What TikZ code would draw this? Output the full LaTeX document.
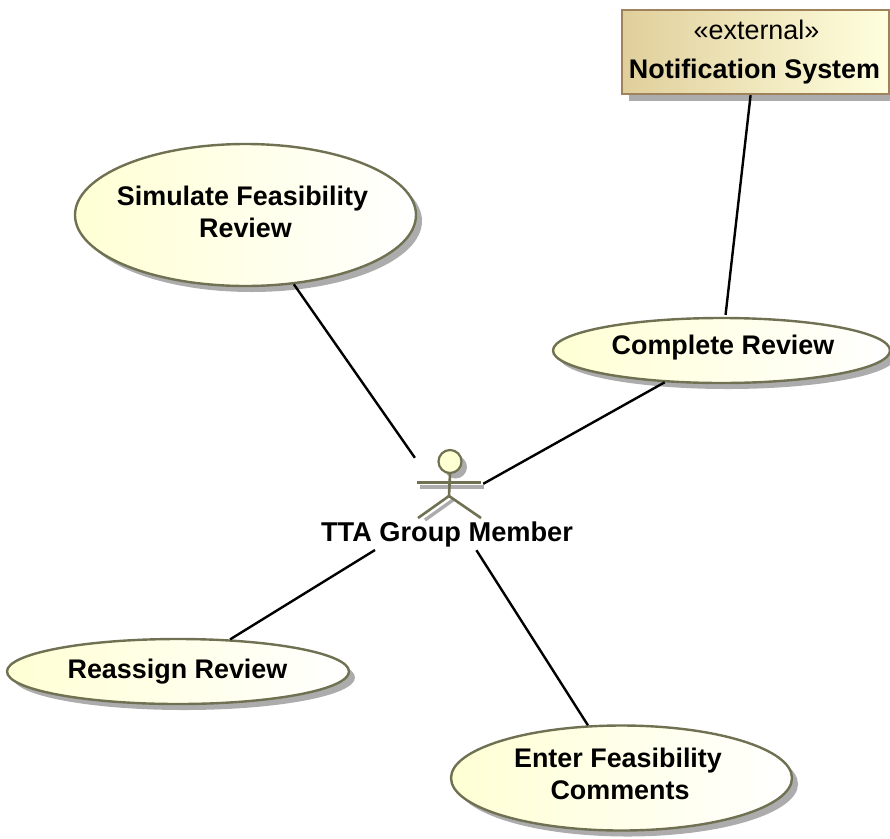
\documentclass[tikz,border=0pt]{standalone}
\usepackage{fontspec}
\setmainfont{Liberation Sans}
\usetikzlibrary{shapes.geometric,shadows}
\definecolor{ucyellow}{RGB}{255,255,212}
\definecolor{ucline}{RGB}{112,112,82}
\definecolor{extleft}{RGB}{224,207,155}
\definecolor{extright}{RGB}{255,255,222}
\definecolor{extline}{RGB}{160,130,92}
\definecolor{shadowgray}{RGB}{172,172,172}
\newcommand{\uctext}[3]{\raisebox{#2pt}{\makebox[0pt]{\hspace*{#1pt}#3}}}
\tikzset{
  usecase/.style={ellipse,draw=ucline,line width=2.4pt,left color=ucyellow,right color=white,
    inner sep=0pt,align=center,font=\fontsize{26.9}{32}\selectfont\bfseries,
    drop shadow={shadow xshift=6pt,shadow yshift=-6pt,fill=shadowgray,opacity=1}},
  extbox/.style={rectangle,draw=extline,line width=2.4pt,left color=extleft,right color=extright,
    inner sep=0pt,align=center,font=\fontsize{26.9}{39}\selectfont,
    drop shadow={shadow xshift=7pt,shadow yshift=-7pt,fill=shadowgray,opacity=1}},
  assoc/.style={draw=black,line width=2.4pt},
  actorline/.style={draw=ucline,line width=2.6pt},
  actorshadow/.style={draw=shadowgray,line width=3.4pt}
}
\begin{document}
\begin{tikzpicture}[x=1pt,y=-1pt]
\useasboundingbox (0,0) rectangle (890,838);
\node[extbox,minimum width=267pt,minimum height=84pt] (notif) at (755.5,52) {\uctext{2}{-3}{«external»}\\\uctext{-2}{-3}{\textbf{Notification System}}};
\node[usecase,minimum width=341pt,minimum height=142pt] (sim) at (245.5,215) {\uctext{-6}{7}{Simulate Feasibility}\\\uctext{0}{7}{Review}};
\node[usecase,minimum width=337pt,minimum height=65pt] (comp) at (721.5,350.5) {\uctext{3}{11}{Complete Review}};
\node[usecase,minimum width=342pt,minimum height=65pt] (reas) at (178,671.5) {\uctext{-1}{3}{Reassign Review}};
\node[usecase,minimum width=341pt,minimum height=105pt] (enter) at (621.5,778) {\uctext{-7}{9}{Enter Feasibility}\\\uctext{-3}{9}{Comments}};
\node[minimum width=72pt,minimum height=92pt,inner sep=0pt] (actor) at (447,504) {};
\node[font=\fontsize{27.2}{32}\selectfont\bfseries,inner sep=0pt] (actorlabel) at (447,534) {TTA Group Member};
\coordinate (actorsw) at (375,550);
% actor figure
\path[actorshadow] (420,487) -- (484,487);
\path[actorshadow] (453,500) -- (425,520);
\fill[shadowgray] (455.5,467) circle (11.5);
\node[circle,draw=ucline,line width=2.2pt,fill=ucyellow,minimum size=23pt,inner sep=0pt] (head) at (450,461.5) {};
\coordinate (larm) at (417,482.5);
\coordinate (rarm) at (481,482.5);
\coordinate (hip) at (449,496);
\coordinate (lfoot) at (418,518);
\coordinate (rfoot) at (481,518);
\path[actorline] (larm) -- (rarm);
\path[actorline] (head.south) -- (hip);
\path[actorline] (hip) -- (lfoot);
\path[actorline] (hip) -- (rfoot);
% connectors
\path[assoc] (sim) -- (actor);
\path[assoc] (comp) -- (actor);
\path[assoc] (reas) -- (actorsw);
\path[assoc] (enter) -- (actor);
\path[assoc,shorten >=2pt] (notif) -- (comp);
\end{tikzpicture}
\end{document}
